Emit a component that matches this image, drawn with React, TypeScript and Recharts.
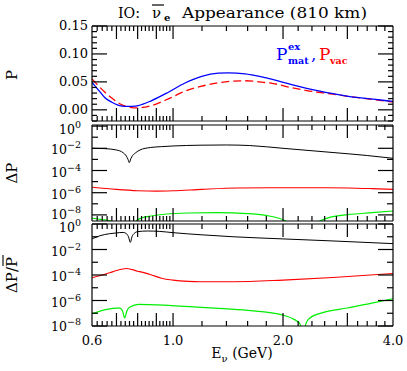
import React from 'react';
import { LineChart, Line, XAxis, YAxis } from 'recharts';

const FONT = '"DejaVu Serif", "Liberation Serif", serif';

// energy axis (GeV, log)
const energyDomain = [0.6, 4.0];
const energyLabelAt = [0.6, 1.0, 2.0, 4.0];
const energyLabels = ['0.6', '1.0', '2.0', '4.0'];
const energyMajor = [0.7, 0.8, 0.9, 1.0, 2.0, 3.0];
const energyMinor = [
  0.62, 0.64, 0.66, 0.68, 0.72, 0.74, 0.76, 0.78, 0.82, 0.84, 0.86, 0.88, 0.92, 0.94, 0.96, 0.98,
  1.2, 1.4, 1.6, 1.8, 2.2, 2.4, 2.6, 2.8, 3.2, 3.4, 3.6, 3.8,
];
const energyTicks = Array.from(new Set([...energyLabelAt, ...energyMajor, ...energyMinor])).sort((a, b) => a - b);

// top panel: P
const matE = [0.6, 0.631, 0.651, 0.68, 0.704, 0.725, 0.745, 0.77, 0.803, 0.874, 0.971, 1.078, 1.198, 1.33, 1.417, 1.574, 1.75, 1.881, 2.1, 2.322, 2.74, 3.051, 3.533, 4.0];
const matP = [0.049, 0.032, 0.0215, 0.0135, 0.009, 0.0068, 0.006, 0.0063, 0.0077, 0.0166, 0.0315, 0.048, 0.06, 0.0655, 0.066, 0.0645, 0.059, 0.054, 0.0455, 0.0385, 0.029, 0.0238, 0.019, 0.015];
const vacE = [0.6, 0.631, 0.651, 0.68, 0.704, 0.73, 0.754, 0.78, 0.812, 0.84, 0.874, 0.971, 1.078, 1.198, 1.33, 1.45, 1.574, 1.75, 1.881, 2.1, 2.322, 2.74, 3.051, 3.533, 4.0];
const vacP = [0.0555, 0.04, 0.0315, 0.021, 0.0136, 0.008, 0.0047, 0.0036, 0.0036, 0.005, 0.0077, 0.0197, 0.0333, 0.0423, 0.0483, 0.0512, 0.052, 0.0495, 0.047, 0.04, 0.0345, 0.028, 0.0235, 0.0185, 0.014];
const probTicks = [-0.02, -0.01, 0, 0.01, 0.02, 0.03, 0.04, 0.05, 0.06, 0.07, 0.08, 0.09, 0.1, 0.11, 0.12, 0.13, 0.14, 0.15];
const probLabelAt = [0, 0.05, 0.1, 0.15];
const probLabels = ['0.00', '0.05', '0.10', '0.15'];

// middle panel: log10 ΔP
const dpBlackE = [0.6, 0.65, 0.7, 0.73, 0.745, 0.753, 0.759, 0.766, 0.775, 0.79, 0.812, 0.866, 0.93, 1.0, 1.185, 1.4, 1.62, 2.0, 2.74, 3.4, 4.0];
const dpBlack = [-2.0, -2.03, -2.15, -2.4, -2.7, -3.0, -3.3, -2.95, -2.65, -2.4, -2.15, -1.93, -1.85, -1.79, -1.72, -1.7, -1.75, -2.0, -2.38, -2.65, -2.9];
const dpRedE = [0.6, 0.7, 0.8, 0.9, 1.0, 1.2, 1.5, 2.0, 2.5, 3.0, 3.5, 4.0];
const dpRed = [-5.51, -5.7, -5.82, -5.86, -5.83, -5.7, -5.58, -5.55, -5.55, -5.57, -5.63, -5.7];
const dpGreenE = [0.6, 0.64, 0.68, 0.71, 0.75, 0.78, 0.795, 0.82, 0.87, 0.96, 1.1, 1.32, 1.6, 1.8, 1.95, 2.05, 2.2, 2.4, 2.52, 2.7, 3.0, 3.5, 4.0];
const dpGreen = [-8.3, -8.42, -8.6, -9.2, -9.3, -8.8, -8.5, -8.28, -8.1, -7.92, -7.83, -7.8, -7.88, -8.05, -8.3, -8.6, -9.3, -9.0, -8.55, -8.2, -7.98, -7.8, -7.65];

// bottom panel: log10 ΔP / P̄
const relBlackE = [0.6, 0.631, 0.67, 0.7, 0.73, 0.745, 0.755, 0.764, 0.772, 0.782, 0.8, 0.85, 0.92, 1.0, 1.2, 1.46, 2.0, 2.74, 4.0];
const relBlack = [-1.17, -0.92, -0.76, -0.7, -0.66, -0.75, -1.0, -1.44, -1.0, -0.75, -0.6, -0.55, -0.58, -0.68, -0.85, -1.0, -1.17, -1.33, -1.54];
const relRedE = [0.6, 0.671, 0.7, 0.746, 0.8, 0.866, 0.93, 1.0, 1.1, 1.185, 1.46, 2.0, 2.74, 4.0];
const relRed = [-4.22, -3.83, -3.65, -3.49, -3.7, -3.96, -4.25, -4.4, -4.5, -4.53, -4.53, -4.4, -4.2, -3.88];
const relGreenE = [0.6, 0.665, 0.7, 0.715, 0.727, 0.737, 0.748, 0.762, 0.805, 0.99, 1.3, 1.6, 2.0, 2.15, 2.22, 2.25, 2.27, 2.29, 2.33, 2.37, 2.58, 3.0, 3.5, 4.0];
const relGreen = [-7.03, -6.67, -6.6, -6.6, -6.8, -7.37, -6.8, -6.51, -6.3, -6.4, -6.6, -6.78, -7.15, -7.5, -7.8, -8.3, -9.5, -8.3, -7.6, -7.37, -6.93, -6.59, -6.2, -5.86];

const decades = [0, -1, -2, -3, -4, -5, -6, -7, -8];

type Pt = { e: number; v: number };
type Series = { data: Pt[]; color: string; width: number; dash?: string };

const zip = (es: number[], vs: number[], log = false): Pt[] =>
  es.map((e, i) => ({ e, v: log ? Math.pow(10, vs[i]) : vs[i] }));

const sameVal = (a: number, b: number) => Math.abs(a - b) < 1e-9;

function xTick(side: 'top' | 'bottom', labels: boolean) {
  return (p: any) => {
    const { x, y, payload } = p;
    const v = payload.value as number;
    const edge = sameVal(v, 0.6) || sameVal(v, 4.0);
    const len = edge ? 0 : energyMajor.some((m) => sameVal(m, v)) ? 13 : 5;
    const dir = side === 'bottom' ? -1 : 1;
    const li = energyLabelAt.findIndex((m) => sameVal(m, v));
    return (
      <g>
        {len > 0 && <line x1={x} x2={x} y1={y} y2={y + dir * len} stroke="#000" strokeWidth={1.2} />}
        {labels && li >= 0 && (
          <text x={x} y={y + 19} textAnchor="middle" fontSize={13} fontFamily={FONT} fill="#000">
            {energyLabels[li]}
          </text>
        )}
      </g>
    );
  };
}

function linTick(side: 'left' | 'right') {
  return (p: any) => {
    const { x, y, payload } = p;
    const v = payload.value as number;
    const li = probLabelAt.findIndex((m) => sameVal(m, v));
    const len = li >= 0 ? 15 : 5;
    const dir = side === 'left' ? 1 : -1;
    return (
      <g>
        <line x1={x} x2={x + dir * len} y1={y} y2={y} stroke="#000" strokeWidth={1.2} />
        {side === 'left' && li >= 0 && (
          <text x={x - 4} y={y + 4} textAnchor="end" fontSize={13} fontFamily={FONT} fill="#000">
            {probLabels[li]}
          </text>
        )}
      </g>
    );
  };
}

function logTick(side: 'left' | 'right') {
  return (p: any) => {
    const { x, y, payload } = p;
    const k = Math.round(Math.log10(payload.value));
    const major = k % 2 === 0;
    const len = major ? 15 : 6;
    const dir = side === 'left' ? 1 : -1;
    // labels at the panel edges sit a little inside, as in the original
    const base = k === 0 ? 7.5 : k === -8 ? 4.5 : 6;
    return (
      <g>
        <line x1={x} x2={x + dir * len} y1={y} y2={y} stroke="#000" strokeWidth={1.2} />
        {side === 'left' && major && (
          <text x={x - 11} y={y + base} textAnchor="end" fontSize={12.5} fontFamily={FONT} fill="#000">
            10
            <tspan dy={-6} fontSize={9.5}>
              {k === 0 ? '0' : '\u2212' + Math.abs(k)}
            </tspan>
          </text>
        )}
      </g>
    );
  };
}

type PanelProps = {
  top: number;
  height: number;
  log: boolean;
  yDomain: number[];
  series: Series[];
  xLabels: boolean;
};

function Panel({ top, height, log, yDomain, series, xLabels }: PanelProps) {
  const yTicks = log ? decades.map((k) => Math.pow(10, k)) : probTicks;
  const axisLine = { stroke: '#000', strokeWidth: 1.2 };
  return (
    <div style={{ position: 'absolute', left: 0, top: top - 10 }}>
      <LineChart width={407} height={height + 55} margin={{ top: 9, right: 0, bottom: 0, left: 0 }}>
        <XAxis
          dataKey="e"
          type="number"
          scale="log"
          domain={energyDomain}
          allowDataOverflow
          ticks={energyTicks}
          interval={0}
          height={45}
          tickSize={0}
          tickMargin={0}
          axisLine={axisLine}
          tickLine={false}
          tick={xTick('bottom', xLabels)}
        />
        <XAxis
          xAxisId="t"
          dataKey="e"
          type="number"
          scale="log"
          orientation="top"
          domain={energyDomain}
          allowDataOverflow
          ticks={energyTicks}
          interval={0}
          height={1}
          tickSize={0}
          tickMargin={0}
          axisLine={axisLine}
          tickLine={false}
          tick={xTick('top', false)}
        />
        <YAxis
          type="number"
          scale={log ? 'log' : 'linear'}
          domain={yDomain}
          allowDataOverflow
          ticks={yTicks}
          interval={0}
          width={92}
          tickSize={0}
          tickMargin={0}
          axisLine={axisLine}
          tickLine={false}
          tick={log ? logTick('left') : linTick('left')}
        />
        <YAxis
          yAxisId="r"
          orientation="right"
          type="number"
          scale={log ? 'log' : 'linear'}
          domain={yDomain}
          allowDataOverflow
          ticks={yTicks}
          interval={0}
          width={14}
          tickSize={0}
          tickMargin={0}
          axisLine={axisLine}
          tickLine={false}
          tick={log ? logTick('right') : linTick('right')}
        />
        {series.map((s, i) => (
          <Line
            key={i}
            data={s.data}
            dataKey="v"
            type="monotone"
            stroke={s.color}
            strokeWidth={s.width}
            strokeDasharray={s.dash}
            dot={false}
            activeDot={false}
            isAnimationActive={false}
          />
        ))}
      </LineChart>
    </div>
  );
}

function Annotations() {
  return (
    <svg
      width={407}
      height={371}
      style={{ position: 'absolute', left: 0, top: 0, pointerEvents: 'none' }}
      fontFamily={FONT}
    >
      <text x={118} y={18} fontSize={15} textLength={22} lengthAdjust="spacingAndGlyphs">IO:</text>
      <text x={152} y={18} fontSize={15}>ν</text>
      <line x1={152} x2={164} y1={5} y2={5} stroke="#000" strokeWidth={1.2} />
      <text x={164} y={21} fontSize={10} fontWeight="bold">e</text>
      <text x={182} y={18} fontSize={15} textLength={185} lengthAdjust="spacingAndGlyphs">
        Appearance (810 km)
      </text>

      <text x={276} y={60} fontSize={17} fill="#0000ff">P</text>
      <text x={288} y={50} fontSize={10} fontWeight="bold" fill="#0000ff">ex</text>
      <text x={288} y={64} fontSize={9.5} fontWeight="bold" fill="#0000ff">mat</text>
      <text x={311} y={60} fontSize={17} fill="#0000ff">,</text>
      <text x={319} y={60} fontSize={17} fill="#ff0000">P</text>
      <text x={330} y={64} fontSize={9.5} fontWeight="bold" fill="#ff0000">vac</text>

      <text x={17} y={75} transform="rotate(-90 17 75)" textAnchor="middle" fontSize={15}>P</text>
      <text x={17} y={173} transform="rotate(-90 17 173)" textAnchor="middle" fontSize={15}>ΔP</text>
      <g transform="rotate(-90 17 275)">
        <text x={17} y={275} textAnchor="middle" fontSize={15}>ΔP/P</text>
        <line x1={26} x2={37} y1={261} y2={261} stroke="#000" strokeWidth={1.1} />
      </g>

      <text x={242} y={358} textAnchor="middle" fontSize={14}>
        E<tspan dy={4} fontSize={10}>ν</tspan>
        <tspan dy={-4}> (GeV)</tspan>
      </text>
    </svg>
  );
}

export default function App() {
  const topSeries: Series[] = [
    { data: zip(vacE, vacP), color: '#ff0000', width: 1.3, dash: '8 4' },
    { data: zip(matE, matP), color: '#0000ff', width: 1.3 },
  ];
  const midSeries: Series[] = [
    { data: zip(dpBlackE, dpBlack, true), color: '#000000', width: 1 },
    { data: zip(dpRedE, dpRed, true), color: '#ff0000', width: 1.1 },
    { data: zip(dpGreenE, dpGreen, true), color: '#00ee00', width: 1.2 },
  ];
  const botSeries: Series[] = [
    { data: zip(relBlackE, relBlack, true), color: '#000000', width: 1 },
    { data: zip(relRedE, relRed, true), color: '#ff0000', width: 1.1 },
    { data: zip(relGreenE, relGreen, true), color: '#00ee00', width: 1.2 },
  ];
  return (
    <div style={{ position: 'absolute', left: 0, top: 0, width: 407, height: 371, background: '#fff', fontFamily: FONT }}>
      <Panel top={26} height={95} log={false} yDomain={[-0.02, 0.15]} series={topSeries} xLabels={false} />
      <Panel top={125} height={96} log yDomain={[Math.pow(10, -8.55), Math.pow(10, 0.1)]} series={midSeries} xLabels={false} />
      <Panel top={224} height={102} log yDomain={[1e-8, 1]} series={botSeries} xLabels />
      <Annotations />
    </div>
  );
}
